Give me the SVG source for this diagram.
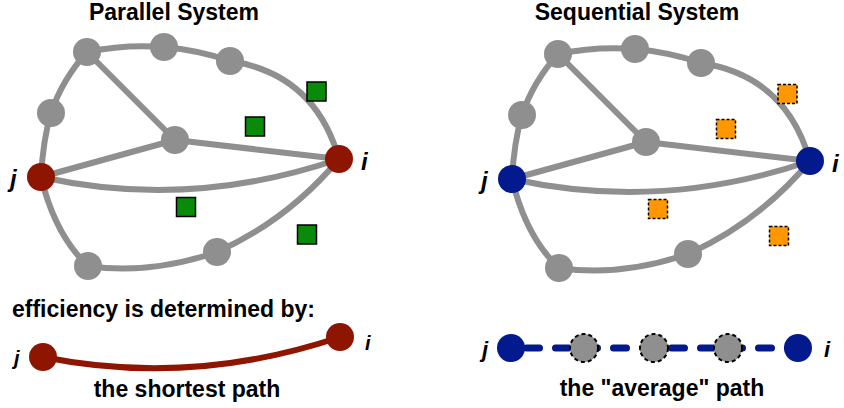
<svg xmlns="http://www.w3.org/2000/svg" width="844" height="408" viewBox="0 0 844 408">
<style>
.title{font-family:"Liberation Sans",Arial,sans-serif;font-weight:bold;font-size:23px;fill:#000;text-anchor:middle}
.cap{font-family:"Liberation Sans",Arial,sans-serif;font-weight:bold;font-size:23px;fill:#000}
.lbl{font-family:"Liberation Sans",Arial,sans-serif;font-weight:bold;font-style:italic;fill:#000}
.edge{fill:none;stroke:#8f8f8f;stroke-width:6;stroke-linecap:round}
.gn{fill:#8f8f8f}
.rn{fill:#8e1500}
.bn{fill:#021a8e}
.gsq{fill:#0a8a0a;stroke:#000;stroke-width:1.5}
.osq{fill:#ff9800;stroke:#000;stroke-width:1.5;stroke-dasharray:3 2}
.dn{fill:#8f8f8f;stroke:#000;stroke-width:2;stroke-dasharray:4 3}
</style>

<!-- titles -->
<text class="title" x="174" y="20">Parallel System</text>
<text class="title" x="637" y="20">Sequential System</text>

<!-- connectors -->
<g id="connectors">
  <g id="edges-parallel">
    <path class="edge" d="M87,52 Q125,44 164,47 Q198,50 230,61 Q315,74 339,159"/>
    <path class="edge" d="M87,52 Q62,80 51,113 Q43,140 41,177"/>
    <path class="edge" d="M87,52 L175,140"/>
    <path class="edge" d="M41,177 L175,140"/>
    <path class="edge" d="M175,140 L339,159"/>
    <path class="edge" d="M41,177 Q190,210 339,159"/>
    <path class="edge" d="M41,177 Q55,235 88,266 Q150,275 217,252 Q288,220 339,159"/>
  </g>
  <g id="edges-sequential" transform="translate(471,2)">
    <path class="edge" d="M87,52 Q125,44 164,47 Q198,50 230,61 Q315,74 339,159"/>
    <path class="edge" d="M87,52 Q62,80 51,113 Q43,140 41,177"/>
    <path class="edge" d="M87,52 L175,140"/>
    <path class="edge" d="M41,177 L175,140"/>
    <path class="edge" d="M175,140 L339,159"/>
    <path class="edge" d="M41,177 Q190,210 339,159"/>
    <path class="edge" d="M41,177 Q55,235 88,266 Q150,275 217,252 Q288,220 339,159"/>
  </g>
  <path id="shortest-path" d="M43,357 Q191,387 340,337" fill="none" stroke="#8e1500" stroke-width="6" stroke-linecap="round"/>
  <path id="average-path" d="M511,348 L798,348" fill="none" stroke="#021a8e" stroke-width="7" stroke-linecap="round" stroke-dasharray="13 16" stroke-dashoffset="13.5"/>
</g>

<!-- parallel nodes -->
<g id="p-a"><circle class="gn" cx="87" cy="52" r="14"/></g>
<g id="p-b"><circle class="gn" cx="164" cy="47" r="14"/></g>
<g id="p-c"><circle class="gn" cx="230" cy="61" r="14"/></g>
<g id="p-d"><circle class="gn" cx="51" cy="113" r="14"/></g>
<g id="p-e"><circle class="gn" cx="175" cy="140" r="14"/></g>
<g id="p-f"><circle class="gn" cx="88" cy="266" r="14"/></g>
<g id="p-g"><circle class="gn" cx="217" cy="252" r="14"/></g>
<g id="p-j"><circle class="rn" cx="41" cy="177" r="14"/><text class="lbl" x="10" y="187" font-size="24">j</text></g>
<g id="p-i"><circle class="rn" cx="339" cy="159" r="14"/><text class="lbl" x="361" y="170" font-size="24">i</text></g>
<g id="p-sq1"><rect class="gsq" x="307" y="82" width="19" height="19"/></g>
<g id="p-sq2"><rect class="gsq" x="245.5" y="117" width="19" height="19"/></g>
<g id="p-sq3"><rect class="gsq" x="176.5" y="197.5" width="19" height="19"/></g>
<g id="p-sq4"><rect class="gsq" x="297.5" y="225" width="19" height="19"/></g>

<!-- sequential nodes -->
<g id="s-a"><circle class="gn" cx="558" cy="54" r="14"/></g>
<g id="s-b"><circle class="gn" cx="635" cy="49" r="14"/></g>
<g id="s-c"><circle class="gn" cx="701" cy="63" r="14"/></g>
<g id="s-d"><circle class="gn" cx="522" cy="115" r="14"/></g>
<g id="s-e"><circle class="gn" cx="646" cy="142" r="14"/></g>
<g id="s-f"><circle class="gn" cx="559" cy="268" r="14"/></g>
<g id="s-g"><circle class="gn" cx="688" cy="254" r="14"/></g>
<g id="s-j"><circle class="bn" cx="512" cy="179" r="14"/><text class="lbl" x="481" y="189" font-size="24">j</text></g>
<g id="s-i"><circle class="bn" cx="810" cy="161" r="14"/><text class="lbl" x="832" y="172" font-size="24">i</text></g>
<g id="s-sq1"><rect class="osq" x="778" y="84.5" width="19" height="19"/></g>
<g id="s-sq2"><rect class="osq" x="716.5" y="119.5" width="19" height="19"/></g>
<g id="s-sq3"><rect class="osq" x="648.5" y="199.5" width="19" height="19"/></g>
<g id="s-sq4"><rect class="osq" x="769.5" y="226.5" width="19" height="19"/></g>

<!-- bottom -->
<text class="cap" x="12" y="317">efficiency is determined by:</text>
<g id="b-j"><circle class="rn" cx="43" cy="357" r="14"/><text class="lbl" x="14" y="365" font-size="20">j</text></g>
<g id="b-i"><circle class="rn" cx="340" cy="337" r="14"/><text class="lbl" x="365" y="350" font-size="20">i</text></g>
<text class="title" x="187" y="397">the shortest path</text>

<g id="q-j"><circle class="bn" cx="511" cy="348" r="14"/><text class="lbl" x="482" y="357" font-size="22">j</text></g>
<g id="q-1"><circle class="dn" cx="584" cy="348" r="14"/></g>
<g id="q-2"><circle class="dn" cx="654" cy="348" r="14"/></g>
<g id="q-3"><circle class="dn" cx="728" cy="348" r="14"/></g>
<g id="q-i"><circle class="bn" cx="798" cy="348" r="14"/><text class="lbl" x="824" y="357" font-size="22">i</text></g>
<text class="title" x="662" y="396">the "average" path</text>
</svg>
